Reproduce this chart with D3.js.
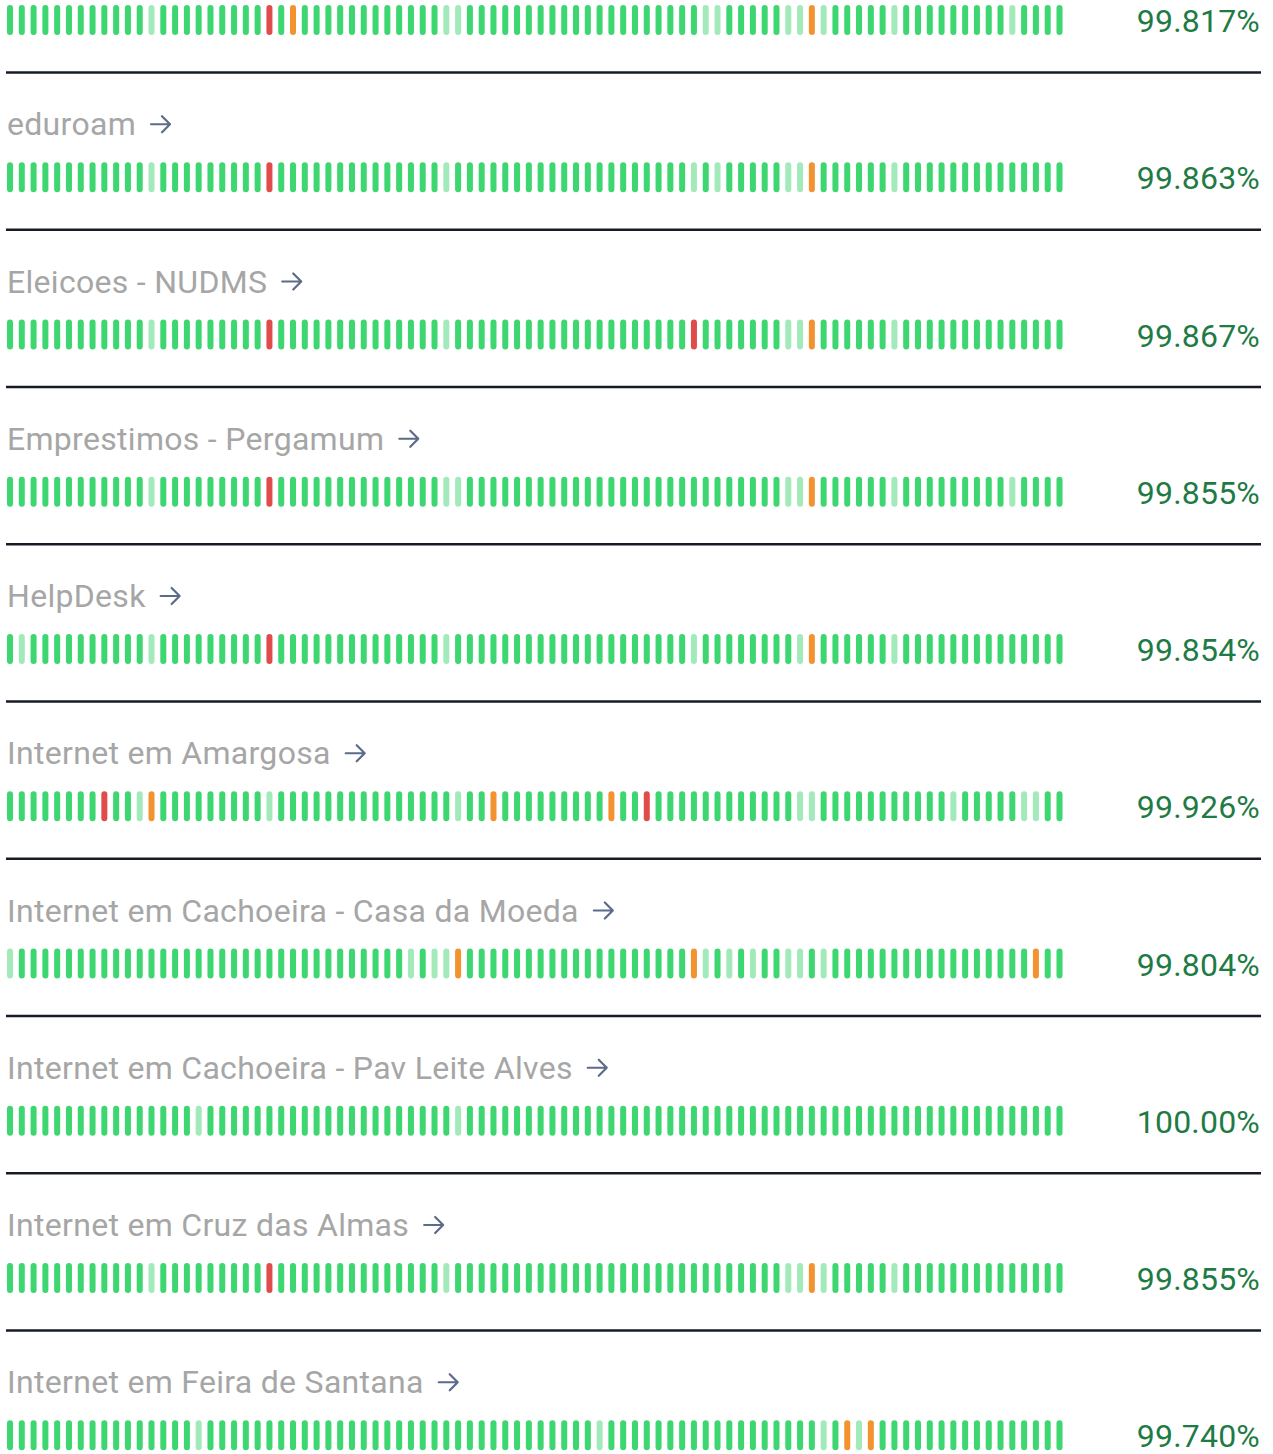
<!DOCTYPE html>
<html>
<head>
<meta charset="utf-8">
<script src="https://cdn.jsdelivr.net/npm/d3@7"></script>
<style>
  body { margin: 0; background: #fff; }
  svg { display: block; }
  .name { font-family: Roboto, sans-serif; font-size: 32px; fill: #a6a6a6; letter-spacing: 0.3px; }
  .uptime { font-family: Roboto, sans-serif; font-size: 32px; fill: #1f7b45; letter-spacing: 0.2px; }
</style>
</head>
<body>
<div id="status"></div>
<script>
"use strict";

// monitor names (first one is scrolled out of view)
var names = [
    null,
    "eduroam",
    "Eleicoes - NUDMS",
    "Emprestimos - Pergamum",
    "HelpDesk",
    "Internet em Amargosa",
    "Internet em Cachoeira - Casa da Moeda",
    "Internet em Cachoeira - Pav Leite Alves",
    "Internet em Cruz das Almas",
    "Internet em Feira de Santana"
];

var uptimes = ["99.817%", "99.863%", "99.867%", "99.855%", "99.854%",
               "99.926%", "99.804%", "100.00%", "99.855%", "99.740%"];

// heartbeats, 90 per monitor, groups of 10
// u = up, p = partial, w = pending, d = down
var beats = [
    "uuuuuuuuuu uupuuuuuuu uuduwuuuuu uuuuuuuppu uuuuuuuuuu uuuuuuuuup puuuuuppwp uuuuupuuuu uuuuupuuuu",
    "uuuuuuuuuu uupuuuuuuu uuduuuuuuu uuuuuuupuu uuuuuuuuuu uuuuuuuupu puuuuuppwu uuuuupuuuu uuuuuuuuuu",
    "uuuuuuuuuu uupuuuuuuu uuduuuuuuu uuuuuuupuu uuuuuuuuuu uuuuuuuudu uuuuuuppwu uuuuupuuuu uuuuuuuuuu",
    "uuuuuuuuuu uupuuuuuuu uuduuuuuuu uuuuuuuppu uuuuuuuuuu uuuuuuuuuu uuuuuuppwu uuuuupuuuu uuuuupuuuu",
    "upuuuuuuuu uupuuuuuuu uuduuuuuuu uuuuuuupuu uuuuuuuuuu uuuuuuuupu uuuuuuupwu uuuuupuuuu uuuuuuuuuu",
    "uuuuuuuudu upwuuuuuuu uupuuuuuuu uuuuuuuupu uwuuuuuuuu uwuuduuuuu uuuuuuuppu uuuuuuuuuu puuuuuppuu",
    "puuuuuuuuu uuuuuuuuuu uuuuuuuuuu uuuupuppwu uuuuuuuuuu uuuuuuuuwp upupuuppup uuuuuuuuuu uuuuuuuwuu",
    "uuuuuuuuuu uuuuuupuuu uuuuuuuuuu uuuuuuuupu uuuuuuuuuu uuuuuuuuuu uuuuuuuuuu uuuuuuuuuu uuuuuuuuuu",
    "uuuuuuuuuu uupuuuuuuu uuduuuuuuu uuuuuuupuu uuuuuuuuuu uuuuuuuuuu uuuuuuppwp uuuuupuuuu uuuuuuuuuu",
    "uuuuuuuuuu uuuuuupuuu uuuuuuuuuu uuuuuuuuuu uuuuuuuuuu puuuuuuuuu uuuuuuuuup uwpwuuuuuu uuuuuuuuuu"
];

var statusColor = {
    u: "#3dd671",
    p: "#a3eabb",
    w: "#f29330",
    d: "#e04b4b"
};

var width = 1273,
    height = 1454;

var svg = d3.select("#status")
    .append("svg")
    .attr("width", width)
    .attr("height", height);

var rows = names.map(function(n, i){
    return {
        name: n,
        uptime: uptimes[i],
        beats: beats[i].replace(/ /g, "").split("")
    };
});

// row centre (middle of the beat bar)
var yScale = d3.scaleLinear()
    .domain([0, rows.length - 1])
    .range([20, 1435.25]);

var xScale = d3.scaleBand()
    .domain(d3.range(90))
    .range([7, 1062.5])
    .paddingInner(0.49)
    .paddingOuter(0);

var barHeight = 30;

var row = svg.selectAll("g.row")
    .data(rows)
    .enter()
    .append("g")
    .attr("class", "row")
    .attr("transform", function(d, i){ return "translate(0," + yScale(i) + ")"; });

// beat bars
row.selectAll("rect")
    .data(function(d){ return d.beats; })
    .enter()
    .append("rect")
    .attr("x", function(d, i){ return xScale(i); })
    .attr("y", -barHeight / 2)
    .attr("width", xScale.bandwidth())
    .attr("height", barHeight)
    .attr("rx", xScale.bandwidth() / 2)
    .style("fill", function(d){ return statusColor[d]; });

// uptime percentage
row.append("text")
    .attr("class", "uptime")
    .attr("x", 1260)
    .attr("y", 12)
    .attr("text-anchor", "end")
    .text(function(d){ return d.uptime; });

// separator under each row
row.append("line")
    .attr("x1", 6)
    .attr("x2", 1261)
    .attr("y1", 52.5)
    .attr("y2", 52.5)
    .style("stroke", "#161b26")
    .style("stroke-width", 2.6);

// monitor name + arrow
row.filter(function(d){ return d.name; })
    .each(function(d){
        var g = d3.select(this);
        var label = g.append("text")
            .attr("class", "name")
            .attr("x", 7)
            .attr("y", -42)
            .text(d.name);
        var x0 = 7 + label.node().getComputedTextLength() + 15;
        var ay = -53;
        g.append("path")
            .attr("d", "M" + x0 + "," + ay + "H" + (x0 + 19)
                + "M" + (x0 + 11) + "," + (ay - 8) + "L" + (x0 + 19) + "," + ay
                + "L" + (x0 + 11) + "," + (ay + 8))
            .style("fill", "none")
            .style("stroke", "#5c6b8a")
            .style("stroke-width", 2.2)
            .style("stroke-linecap", "round")
            .style("stroke-linejoin", "round");
    });
</script>
</body>
</html>
